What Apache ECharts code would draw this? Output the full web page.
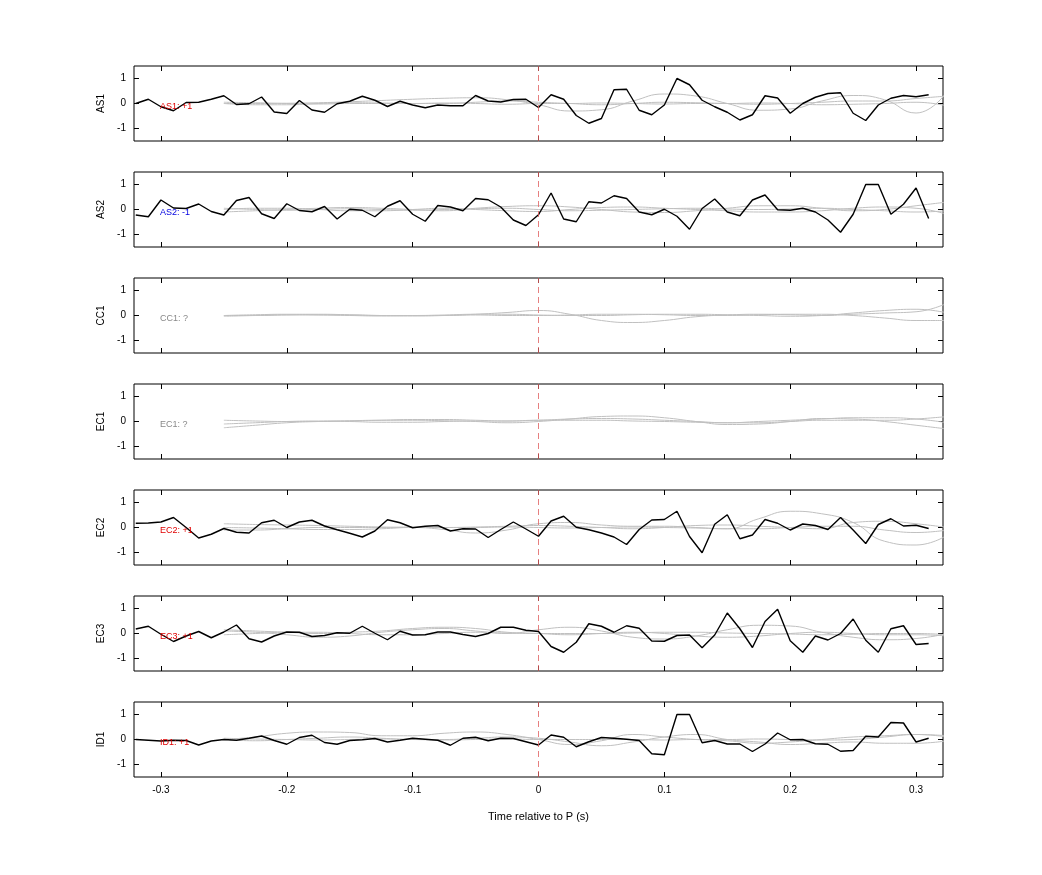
<!DOCTYPE html>
<html><head><meta charset="utf-8">
<script src="https://cdn.jsdelivr.net/npm/echarts@6/dist/echarts.min.js"></script>
<style>html,body{margin:0;padding:0;background:#fff}#c{width:1042px;height:875px}</style>
</head><body><div id="c"></div>
<script>
const stations = ['AS1','AS2','CC1','EC1','EC2','EC3','ID1'];
const labels = ['AS1: +1','AS2: -1','CC1: ?','EC1: ?','EC2: +1','EC3: +1','ID1: +1'];
const labelColors = ['#e00000','#0000e0','#888888','#888888','#e00000','#e00000','#e00000'];
const xTicks = [-0.3,-0.2,-0.1,0,0.1,0.2,0.3];
const yTicks = [-1,0,1];
// black traces: t = -0.32 .. 0.31 step 0.01
const blackStart = -0.32, blackStep = 0.01;
const blackAS1 = [0,0.17,-0.13,-0.29,0.04,0.05,0.17,0.31,-0.04,-0.01,0.26,-0.34,-0.40,0.12,-0.26,-0.35,-0.01,0.09,0.29,0.13,-0.12,0.09,-0.06,-0.17,-0.06,-0.09,-0.09,0.32,0.10,0.06,0.16,0.17,-0.16,0.35,0.17,-0.48,-0.79,-0.60,0.55,0.57,-0.27,-0.45,-0.06,1.0,0.75,0.13,-0.13,-0.35,-0.66,-0.45,0.31,0.22,-0.39,0,0.25,0.40,0.43,-0.39,-0.68,-0.06,0.21,0.32,0.27,0.35];
const blackAS2 = [-0.22,-0.29,0.38,0.06,0.04,0.22,-0.08,-0.22,0.36,0.48,-0.17,-0.36,0.23,-0.04,-0.09,0.12,-0.38,0.01,-0.03,-0.29,0.13,0.35,-0.19,-0.47,0.16,0.10,-0.05,0.44,0.39,0.10,-0.42,-0.64,-0.21,0.66,-0.38,-0.49,0.31,0.26,0.55,0.44,-0.10,-0.21,0.01,-0.27,-0.79,0.04,0.42,-0.10,-0.25,0.38,0.58,-0.01,-0.03,0.05,-0.10,-0.42,-0.91,-0.19,1.0,1.0,-0.19,0.21,0.86,-0.36];
const blackEC2 = [0.17,0.18,0.22,0.40,0,-0.42,-0.27,-0.04,-0.19,-0.22,0.19,0.29,0,0.22,0.29,0.06,-0.09,-0.23,-0.38,-0.14,0.31,0.19,-0.01,0.05,0.08,-0.14,-0.05,-0.06,-0.40,-0.08,0.22,-0.06,-0.35,0.26,0.45,0.01,-0.09,-0.22,-0.38,-0.68,-0.08,0.30,0.32,0.65,-0.36,-1.01,0.13,0.51,-0.45,-0.30,0.32,0.17,-0.10,0.14,0.08,-0.08,0.40,-0.10,-0.64,0.12,0.35,0.06,0.09,-0.04];
const blackEC3 = [0.18,0.29,-0.03,-0.32,-0.10,0.08,-0.17,0.06,0.34,-0.21,-0.34,-0.10,0.06,0.05,-0.12,-0.08,0.03,0.01,0.29,0.01,-0.25,0.09,-0.06,-0.05,0.06,0.06,-0.04,-0.12,0,0.25,0.25,0.13,0.08,-0.52,-0.75,-0.35,0.39,0.29,0.05,0.31,0.21,-0.30,-0.31,-0.08,-0.06,-0.57,-0.06,0.82,0.19,-0.56,0.48,0.97,-0.29,-0.75,-0.10,-0.26,0,0.58,-0.27,-0.75,0.19,0.31,-0.44,-0.40];
const blackID1 = [0,-0.03,-0.06,-0.03,-0.04,-0.22,-0.06,0,-0.03,0.05,0.14,-0.04,-0.19,0.08,0.17,-0.12,-0.19,-0.04,-0.01,0.04,-0.10,-0.03,0.05,0.01,-0.03,-0.23,0.05,0.09,-0.05,0.05,0.04,-0.09,-0.22,0.18,0.09,-0.29,-0.09,0.08,0.05,0.01,-0.04,-0.57,-0.61,1.0,1.0,-0.13,-0.04,-0.18,-0.18,-0.48,-0.18,0.26,-0.01,0,-0.17,-0.19,-0.47,-0.44,0.13,0.10,0.68,0.66,-0.10,0.05];
const blacks = [blackAS1, blackAS2, null, null, blackEC2, blackEC3, blackID1];
// gray traces: t = -0.25 .. 0.325 step 0.025
const grayStart = -0.25, grayStep = 0.025;
const grayAS1 = [
 [0,0,0.01,0.03,0.07,0.12,0.17,0.21,0.23,0.15,-0.05,-0.3,-0.25,0.1,0.38,0.3,0,-0.27,-0.22,0.1,0.32,0.15,-0.38,0.5],
 [0,-0.05,-0.05,0,0.03,0.02,0,0,0.05,0.1,0.05,0,-0.05,0,0.05,0.03,0,-0.03,0,0.05,0.1,0.1,0.2,0.3],
 [0.05,0.03,0,-0.02,0,0,0,0.02,0,-0.03,0,0,0.02,0,-0.02,0,0,0.02,0,-0.05,-0.03,0,0.05,-0.1]];
const grayAS2 = [
 [-0.1,-0.05,0,0.05,0.08,0.05,0,-0.05,0.05,0.12,0.15,0.1,0,-0.1,-0.12,-0.05,0.05,0.15,0.15,0.05,-0.05,0,0.15,0.3],
 [0,0.05,0.05,0,-0.05,-0.05,0,0.05,0,-0.05,-0.08,0,0.08,0.1,0.05,0,-0.05,-0.1,-0.1,-0.05,0.05,0.1,0.05,-0.2],
 [0.05,0,-0.03,0,0.03,0,-0.03,0,0.03,0.05,0,-0.05,-0.03,0,0.03,0.05,0.02,0,0.02,0.05,0,-0.05,-0.1,-0.05]];
const grayCC1 = [
 [0,0,0.02,0.03,0.02,0,-0.02,0,0.05,0.12,0.2,0.05,-0.2,-0.28,-0.2,-0.05,0.02,0.05,0.03,0,0.05,0.1,0.15,0.5],
 [0,0.03,0.05,0.05,0.03,0,0,0.02,0.05,0.05,0.02,0,0,0.03,0.05,0.05,0.03,0,-0.03,0,0.1,0.2,0.25,0.1],
 [-0.03,0,0.03,0.02,0,-0.02,0,0,0.02,0,0,0.02,0.05,0.05,0.03,0,0,0.03,0.05,0.05,0,-0.1,-0.2,-0.2]];
const grayEC1 = [
 [-0.25,-0.15,-0.05,0,0.03,0.05,0.05,0.03,0,-0.05,0,0.1,0.2,0.22,0.15,0,-0.12,-0.1,0,0.12,0.1,0,-0.15,-0.3],
 [0.05,0.02,0,0,0.02,0.05,0.08,0.08,0.05,0.02,0.05,0.1,0.12,0.1,0.05,0,-0.05,0,0.05,0.1,0.15,0.15,0.1,-0.05],
 [-0.1,-0.05,0,0.02,0,-0.03,-0.03,0,0.02,0.02,0.05,0.05,0.05,0.02,0,-0.03,-0.05,-0.05,0,0.05,0.05,0.05,0.1,0.2]];
const grayEC2 = [
 [0,-0.02,-0.05,-0.08,-0.08,-0.05,0,-0.08,-0.22,-0.1,0.15,0.2,0.1,0.05,0.05,0,-0.05,0.35,0.65,0.55,0.2,-0.55,-0.7,-0.3],
 [0.15,0.12,0.1,0.08,0.05,0.02,0,0,0.02,0.05,0.08,0.05,0,-0.05,0,0.08,0.1,0.05,0,-0.05,0.2,0.25,0.15,0],
 [-0.1,-0.1,-0.05,0,0,0,0.02,0,0,0.02,0,-0.02,0,0.02,0,-0.02,-0.05,-0.05,0,0.05,0.05,-0.1,-0.2,-0.1]];
const grayEC3 = [
 [0.1,0.05,-0.05,-0.15,-0.1,0.05,0.15,0.2,0.1,0,0.15,0.25,0.1,-0.15,-0.22,-0.1,0.15,0.33,0.3,0.05,-0.15,-0.25,-0.2,0],
 [0.15,0.1,0.05,0,0.05,0.1,0.2,0.25,0.2,0.05,0,-0.05,0,0.05,0,-0.1,-0.15,-0.1,0,0.05,0,-0.05,-0.05,-0.1],
 [-0.05,0,0.05,0.05,0,-0.05,-0.05,0,0.05,0.02,0,0,0,0.02,0.05,0.05,0.02,0,-0.02,-0.05,-0.03,0,0,-0.05]];
const grayID1 = [
 [0,0.1,0.25,0.3,0.28,0.15,0.15,0.25,0.3,0.2,0,-0.2,-0.05,0.2,0.1,0,-0.05,-0.15,-0.1,0,0.1,0.15,0.2,0.1],
 [0,-0.05,0,0.05,0.1,0.05,0,0,0.05,0.1,0.05,-0.1,-0.25,-0.1,0.1,0.2,0,-0.1,-0.2,-0.15,-0.1,-0.15,-0.15,-0.05],
 [0.05,0.02,0,-0.02,0,0.02,0,-0.02,0,0.02,0,0,0,0,-0.02,0,0,0.02,0,-0.02,0,0.1,0.2,0.15]];
const grays = [grayAS1, grayAS2, grayCC1, grayEC1, grayEC2, grayEC3, grayID1];

const FONT = 'Liberation Sans';
const tops = [66,172,278,384,490,596,702], H = 75, L = 134, W = 809;
const grid = [], xAxis = [], yAxis = [], series = [], title = [];
const pair = (arr, s0, ds) => arr.map((v,i)=>[+(s0+i*ds).toFixed(4), v]);
stations.forEach((st, i) => {
  grid.push({left:L, top:tops[i], width:W, height:H, show:true, borderColor:'#000', borderWidth:1, containLabel:false});
  const last = i === stations.length-1;
  const xb = {type:'value', gridIndex:i, min:-0.3214, max:0.3214, axisLine:{show:false, onZero:false}, splitLine:{show:false},
    axisTick:{show:true, inside:true, length:5, customValues:xTicks, lineStyle:{color:'#000'}}};
  xAxis.push(Object.assign({}, xb, {position:'bottom',
    axisLabel:{show:last, customValues:xTicks, fontFamily:FONT, fontSize:10, color:'#000', margin:8, formatter:v=>v===0?'0':v.toFixed(1)},
    name: last ? 'Time relative to P (s)' : '', nameLocation:'middle', nameGap:34, nameTextStyle:{fontFamily:FONT, fontSize:11, color:'#000'}}));
  xAxis.push(Object.assign({}, xb, {position:'top', axisLabel:{show:false}}));
  const yb = {type:'value', gridIndex:i, min:-1.5, max:1.5, axisLine:{show:false, onZero:false}, splitLine:{show:false},
    axisTick:{show:true, inside:true, length:5, customValues:yTicks, lineStyle:{color:'#000'}}};
  yAxis.push(Object.assign({}, yb, {position:'left', axisLabel:{customValues:yTicks, fontFamily:FONT, fontSize:10, color:'#000', margin:8},
    name:st, nameLocation:'middle', nameGap:27, nameRotate:90, nameTextStyle:{fontFamily:FONT, fontSize:10, color:'#000'}}));
  yAxis.push(Object.assign({}, yb, {position:'right', axisLabel:{show:false}}));
  grays[i].forEach((g, j) => series.push({type:'line', xAxisIndex:2*i, yAxisIndex:2*i, data:pair(g, grayStart, grayStep),
    smooth:true, showSymbol:false, silent:true, lineStyle:{color:'#c0c0c0', width:1}, z:2,
    markLine: j===0 ? {symbol:'none', silent:true, label:{show:false}, lineStyle:{color:'#e06060', type:[6,4], width:0.8}, data:[{xAxis:0}]} : undefined}));
  if (blacks[i]) series.push({type:'line', xAxisIndex:2*i, yAxisIndex:2*i, data:pair(blacks[i], blackStart, blackStep),
    showSymbol:false, silent:true, lineStyle:{color:'#000', width:1.4}, z:3});
  title.push({text:labels[i], left:155, top:tops[i]+H/2-6, textStyle:{fontFamily:FONT, fontSize:9, fontWeight:'normal', color:labelColors[i]}});
});
const chart = echarts.init(document.getElementById('c'));
chart.setOption({animation:false, backgroundColor:'#fff', title, grid, xAxis, yAxis, series});
</script></body></html>
